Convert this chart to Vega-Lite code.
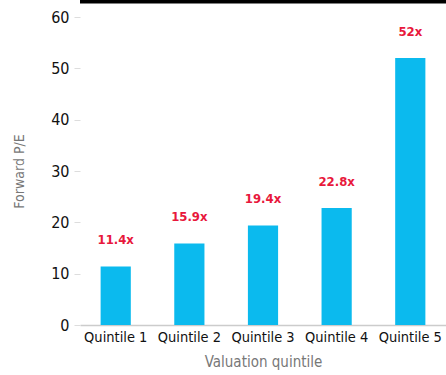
{
  "$schema": "https://vega.github.io/schema/vega-lite/v6.json",
  "width": 366,
  "height": 308,
  "autosize": "none",
  "padding": {"left": 80, "top": 17, "right": 0, "bottom": 50},
  "background": "white",
  "config": {
    "view": {"stroke": null},
    "font": "DejaVu Sans Condensed, sans-serif"
  },
  "data": {
    "values": [
      {"quintile": "Quintile 1", "pe": 11.4, "label": "11.4x"},
      {"quintile": "Quintile 2", "pe": 15.9, "label": "15.9x"},
      {"quintile": "Quintile 3", "pe": 19.4, "label": "19.4x"},
      {"quintile": "Quintile 4", "pe": 22.8, "label": "22.8x"},
      {"quintile": "Quintile 5", "pe": 52, "label": "52x"}
    ]
  },
  "layer": [
    {
      "mark": {"type": "bar", "color": "#0bbaee"},
      "encoding": {
        "x": {
          "field": "quintile",
          "type": "nominal",
          "sort": null,
          "scale": {"paddingInner": 0.59, "paddingOuter": 0.28},
          "axis": {
            "title": "Valuation quintile",
            "labelAngle": 0,
            "labelFontSize": 14.5,
            "labelColor": "#111111",
            "labelPadding": 5,
            "ticks": false,
            "domainColor": "#cccccc",
            "domainWidth": 1.5,
            "titleFontSize": 15,
            "titleFontWeight": "normal",
            "titleColor": "#777777",
            "titlePadding": 11
          }
        },
        "y": {
          "field": "pe",
          "type": "quantitative",
          "scale": {"domain": [0, 60]},
          "axis": {
            "title": "Forward P/E",
            "values": [0, 10, 20, 30, 40, 50, 60],
            "grid": false,
            "domain": false,
            "tickColor": "#dddddd",
            "tickSize": 6,
            "labelPadding": 5,
            "labelFontSize": 16,
            "labelColor": "#111111",
            "titleFontSize": 14,
            "titleFontWeight": "normal",
            "titleColor": "#777777",
            "titlePadding": 24
          }
        }
      }
    },
    {
      "mark": {"type": "text", "color": "#e8183c", "fontSize": 13, "fontWeight": "bold", "baseline": "bottom", "dy": -19},
      "encoding": {
        "x": {"field": "quintile", "type": "nominal", "sort": null},
        "y": {"field": "pe", "type": "quantitative"},
        "text": {"field": "label"}
      }
    },
    {
      "data": {"values": [{"top": 63}]},
      "mark": {"type": "rule", "color": "#000000", "strokeWidth": 4, "clip": false},
      "encoding": {
        "y": {"field": "top", "type": "quantitative"}
      }
    }
  ]
}
